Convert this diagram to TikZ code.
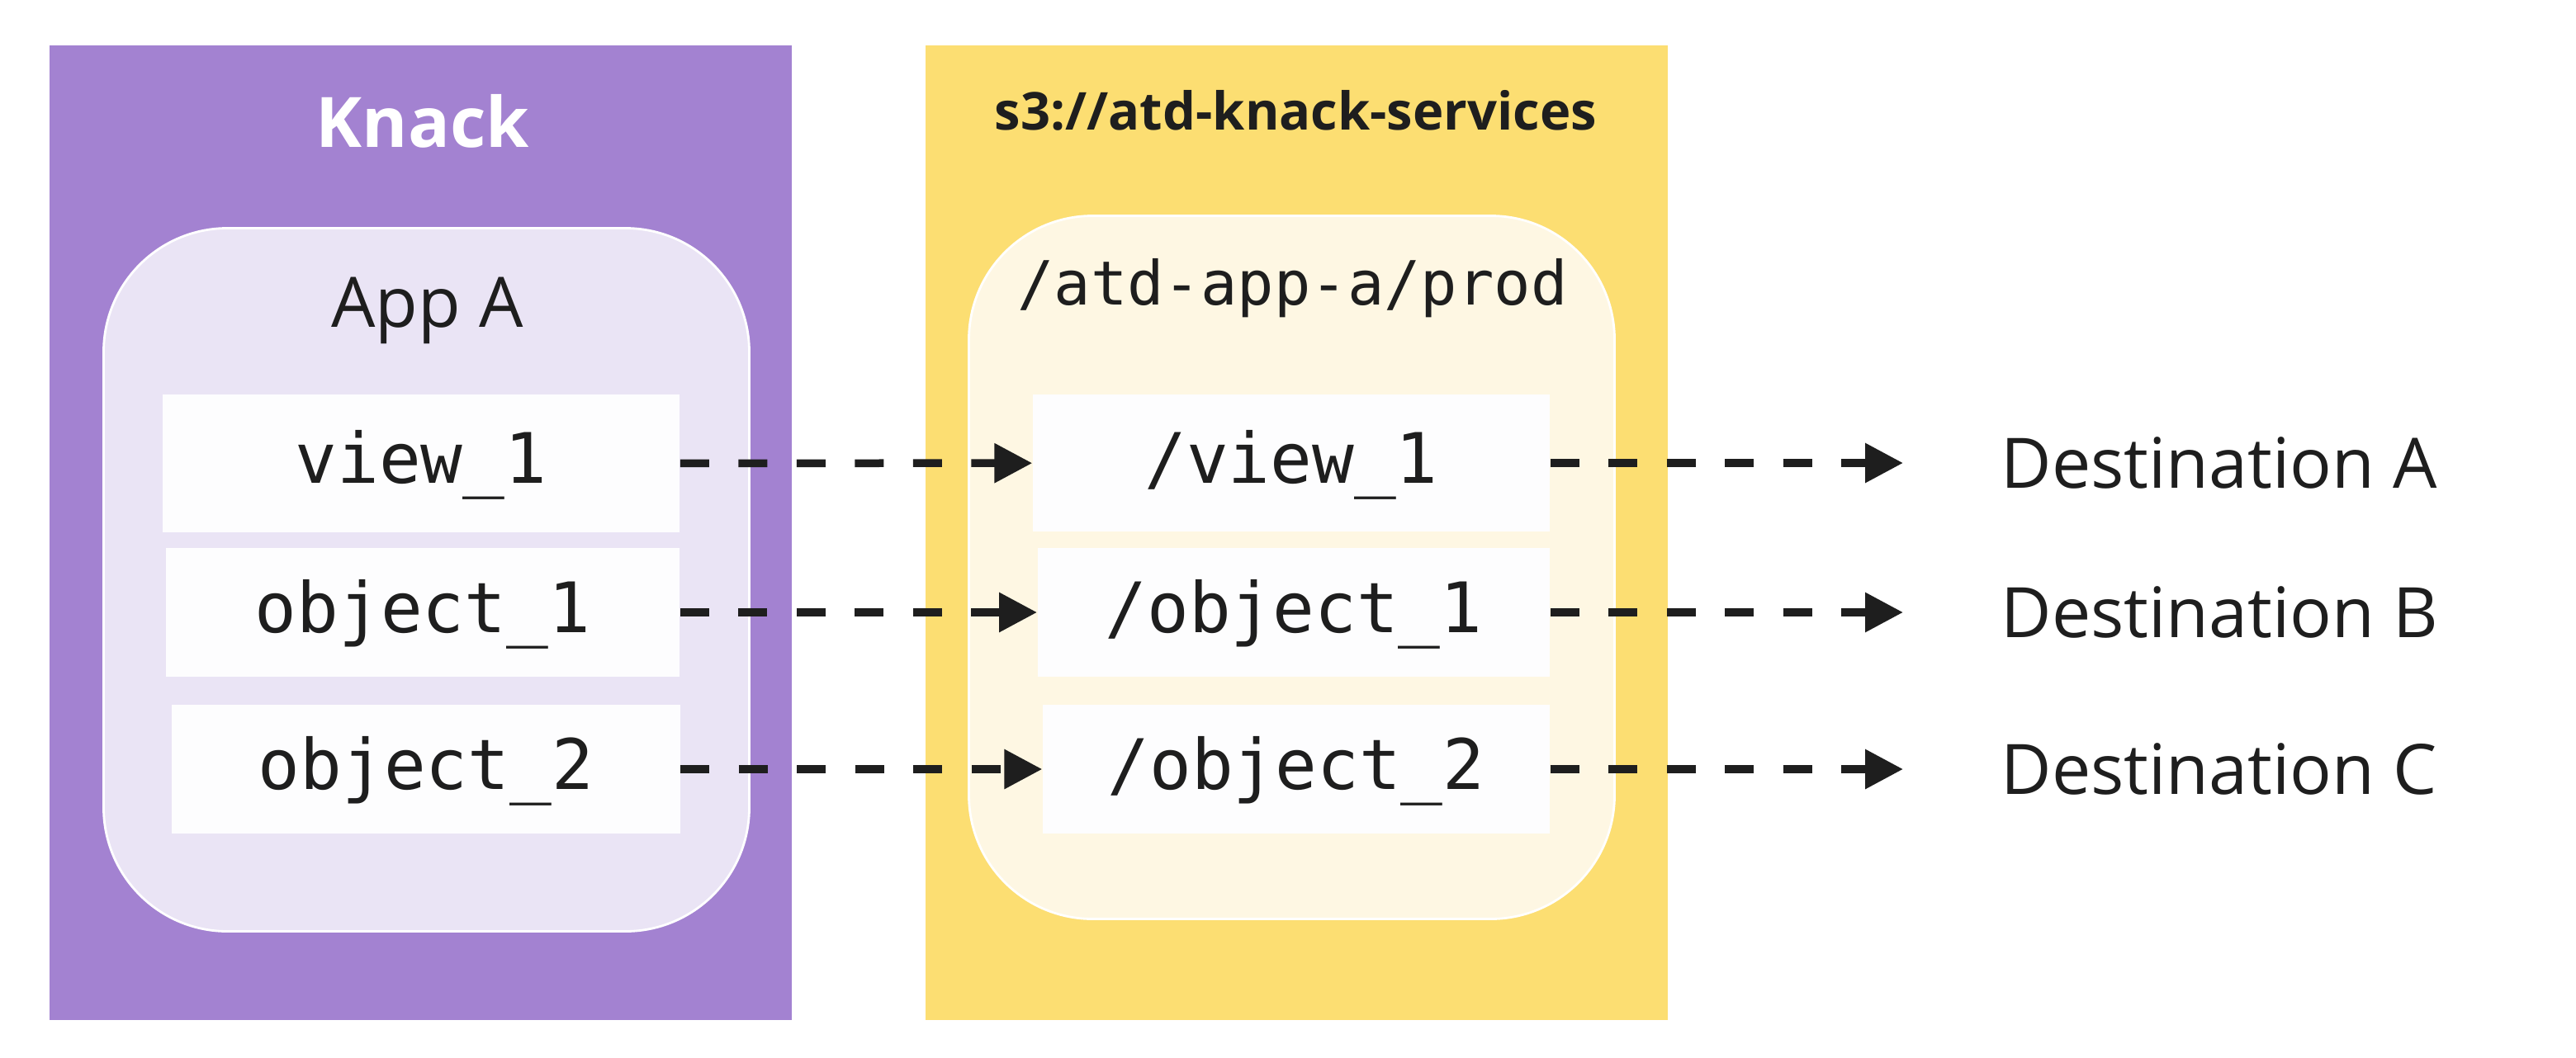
\documentclass[tikz,border=0pt]{standalone}
\usepackage{fontspec}
\setmainfont{Open Sans}
\setmonofont{DejaVu Sans Mono}
\usetikzlibrary{arrows.meta}
\usetikzlibrary{positioning}
\definecolor{knackpurple}{RGB}{163,130,209}
\definecolor{knacklilac}{RGB}{234,228,245}
\definecolor{s3yellow}{RGB}{252,222,114}
\definecolor{s3cream}{RGB}{254,247,227}
\definecolor{inkgrey}{RGB}{30,30,30}
\definecolor{paperwhite}{RGB}{253,253,254}
\tikzset{
  panel/.style={rectangle, inner sep=0pt, minimum width=8.99cm, minimum height=11.81cm},
  group/.style={rectangle, rounded corners=1.5cm, draw=white, line width=0.8pt, inner sep=0pt, minimum width=7.82cm, minimum height=8.52cm},
  item/.style={rectangle, fill=paperwhite, inner sep=0pt, minimum height=1.56cm, text height=0.48cm, text depth=0pt, text=inkgrey, font=\ttfamily\fontsize{24}{28}\selectfont},
  flow/.style={inkgrey, line width=0.95mm, dash pattern=on 3.5mm off 3.55mm, -{Triangle[length=4.6mm,width=4.6mm]}},
  dest/.style={anchor=west, inner sep=0pt, text=inkgrey, font=\fontsize{24}{28}\selectfont}
}
\begin{document}
\begin{tikzpicture}
      \useasboundingbox (0,0) rectangle (31.2,-12.81);
      % the two panels
      \node[panel, fill=knackpurple] (knack) at (5.095,-6.455) {};
      \node[panel, fill=s3yellow] (bucket) at (15.705,-6.455) {};
      \node[anchor=base, text=white, font=\fontsize{24}{28}\selectfont\bfseries] (knacktitle) at (5.12,-1.78) {Knack};
      \node[anchor=base, text=inkgrey, font=\fontsize{18}{22}\selectfont\bfseries] (buckettitle) at (15.695,-1.57) {s3://atd-knack-services};
      % app and prefix
      \node[group, fill=knacklilac] (app) at (5.165,-7.025) {};
      \node[group, fill=s3cream] (prefix) at (15.645,-6.875) {};
      \node[anchor=base, text=inkgrey, font=\fontsize{24}{28}\selectfont] (apptitle) at (5.175,-3.96) {App A};
      \node[anchor=base, text=inkgrey, font=\ttfamily\fontsize{21}{25}\selectfont] (prefixtitle) at (15.655,-3.69) {/atd-app-a/prod};
      % records
      \node[item, minimum width=6.265cm, minimum height=1.67cm] (v1) at (5.10,-5.615) {view\_1};
      \node[item, minimum width=6.225cm] (o1) at (5.12,-7.42) {object\_1};
      \node[item, minimum width=6.155cm] (o2) at (5.16,-9.32) {object\_2};
      \node[item, minimum width=6.26cm, minimum height=1.66cm] (pv1) at (15.64,-5.61) {/view\_1};
      \node[item, minimum width=6.205cm] (po1) at (15.67,-7.42) {/object\_1};
      \node[item, minimum width=6.14cm] (po2) at (15.70,-9.32) {/object\_2};
      % destinations
      \node[dest] (dA) at (24.23,-5.61) {Destination A};
      \node[dest] (dB) at (24.23,-7.42) {Destination B};
      \node[dest] (dC) at (24.23,-9.32) {Destination C};
      \foreach \a/\b in {v1/pv1, o1/po1, o2/po2}
        \draw[flow] (\a) -- (\b);
      \foreach \a/\b in {pv1/dA, po1/dB, po2/dC}
        \draw[flow, shorten >=1.18cm] (\a) -- (\b);
\end{tikzpicture}
\end{document}
